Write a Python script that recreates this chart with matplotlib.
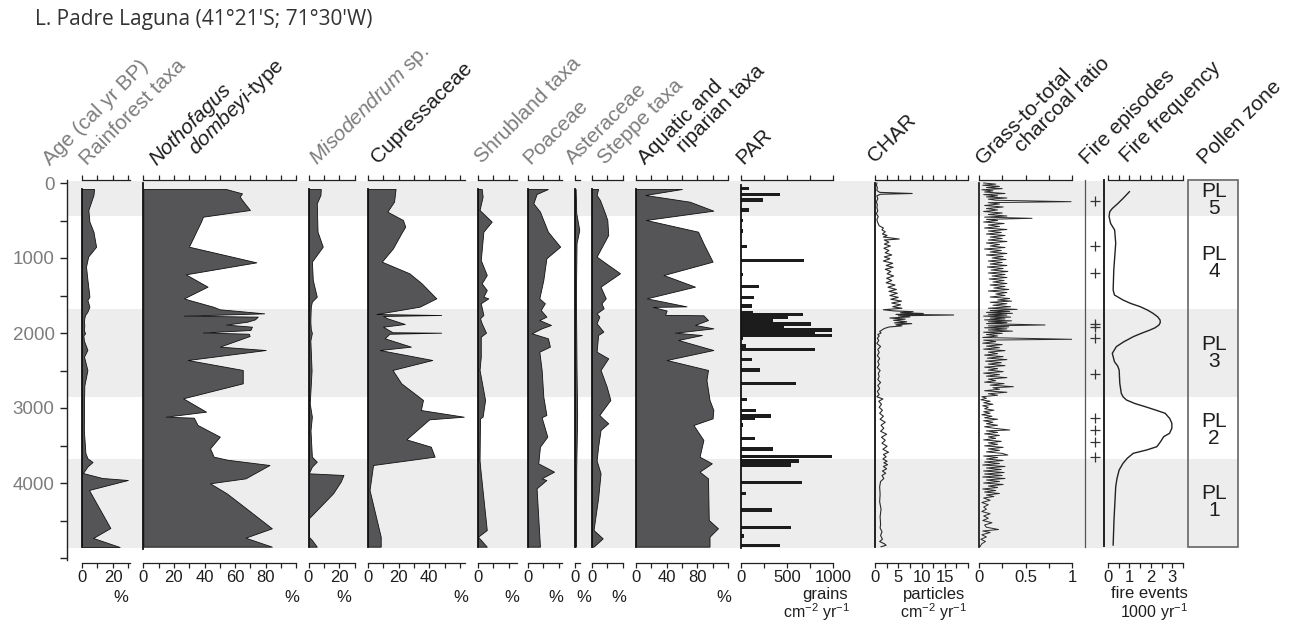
import matplotlib
matplotlib.use('Agg')
import matplotlib.pyplot as plt
from matplotlib.lines import Line2D
from matplotlib.patches import Rectangle

plt.rcParams['font.family'] = ['Liberation Sans', 'DejaVu Sans']
plt.rcParams['mathtext.fontset'] = 'custom'
plt.rcParams['mathtext.rm'] = 'Liberation Sans'
plt.rcParams['mathtext.it'] = 'Liberation Sans:italic'
plt.rcParams['mathtext.bf'] = 'Liberation Sans:bold'

# ---------------- data ----------------
zone_names = ['PL\n5', 'PL\n4', 'PL\n3', 'PL\n2', 'PL\n1']
zone_bounds = [-30, 440, 1684, 2849, 3680, 4860]

rf_age = [80,160,360,515,650,850,980,1115,1290,1515,1560,1650,1715,1760,1800,1850,1900,1960,2005,2030,2100,2225,2315,2495,2700,2940,3300,3600,3670,3720,3780,3867,3933,3960,4093,4600,4733,4853]
rf_val = [7.8,7.4,4.1,4.8,7.4,9.1,4.0,2.6,3.5,4.8,3.5,4.8,3.5,2.0,1.5,1.3,1.5,1.2,2.0,0.9,1.2,3.5,1.3,3.5,1.5,1.3,1.2,2.2,3.5,6.8,3.5,0.6,13.0,29.6,4.5,18.3,7.2,24.3]

no_age = [80,138,182,249,360,449,516,649,715,849,1058,1218,1382,1538,1560,1649,1684,1738,1769,1782,1818,1849,1888,1916,1960,1993,2010,2040,2182,2227,2360,2493,2671,2871,3049,3116,3129,3227,3382,3538,3649,3690,3760,3938,4004,4138,4271,4604,4729,4849]
no_val = [54,64.5,63,65.4,69.7,39,37.7,34.5,33,29.8,73.9,27.7,42,26.6,30,45.6,50,79,26.6,74.8,73,68,54,71,70,39,69,69.5,50,80,29,65,65,26,41,14.6,33,35.5,50,43.6,46,55,82.5,66.8,43.6,54.5,63,84,66.8,84]

mi_age = [80,160,271,649,849,1049,1293,1516,1582,1650,1760,1850,1950,2000,2100,2500,2940,3116,3300,3649,3716,3782,3871,3893,3982,4138,4471,4716,4760,4849]
mi_val = [8,7.8,5.4,5.9,9.3,2.2,2.8,5.4,2.2,1.5,1.3,1.2,1.5,2.2,1.2,2.0,0.8,2.2,1.3,2.2,5.4,2.2,0.2,22.8,21,16,0.2,0.2,2.2,5.4]

cu_age = [80,249,382,493,582,671,871,1049,1204,1338,1538,1649,1747,1760,1773,1804,1880,1916,1990,1996,2010,2071,2182,2227,2360,2493,2671,2893,3027,3116,3151,3418,3516,3649,3760,4093,4716,4849]
cu_val = [18,17,12.6,22.8,24.3,21.7,16.3,9,27,35,44.6,33.7,5.4,47.8,9.8,12.6,24,9.8,16,47.8,14,10.9,28,7.6,42,16,21.7,35.9,34.5,62.5,40,25,41,43.5,3.3,1,8.3,8.3]

sh_age = [80,182,360,515,649,1027,1115,1227,1338,1427,1516,1538,1604,1760,1804,1871,1996,2049,2316,2493,2893,3116,3138,3700,3871,4627,4716,4849]
sh_val = [2.4,3.0,1.0,8.9,3.5,1.8,3.5,5.7,2.4,5.7,3.5,6.7,1.8,3.5,1.3,2.4,5.2,1.8,1.8,1.0,4.6,3.0,1.3,1.0,1.8,5.7,0,5.7]

po_age = [80,147,271,382,649,849,1004,1293,1538,1604,1693,1782,1827,1893,1938,2004,2071,2182,2249,2493,2849,3093,3124,3200,3382,3516,3738,3849,3938,3960,4071,4849]
po_val = [13,5.6,3.5,7.8,13,21,12,10,7.4,11,8.3,12,7.4,15,8.9,2.4,13,14.3,7.4,8.9,10,12,8.9,10,12.6,7.8,6.7,17,8.9,12,5.6,7.8]

as_age = [80,400,627,800,1500,2500,3100,3800,4849]
as_val = [0.4,0.8,2.8,1.0,0.6,1.0,1.4,0.8,0.6]

st_age = [80,160,227,404,493,693,982,1204,1382,1538,1604,1671,1738,1782,1870,1982,2027,2249,2338,2493,2716,2893,3093,3138,3204,3293,3516,3700,3871,4200,4627,4738,4849]
st_val = [4,3,5.2,8.5,10,10.6,3,18.3,5.6,9,6.2,7.6,3,4.8,3,7.4,4,3,10.6,5.6,9.6,12,4.8,7,10.6,5.6,4,3,5.6,4,1,7,1]

aq_age = [80,160,249,369,493,649,804,1049,1227,1382,1538,1645,1652,1700,1758,1764,1827,1893,1938,1996,2027,2093,2227,2360,2493,2627,2893,3027,3138,3227,3427,3649,3738,3849,3938,4493,4604,4716,4849]
aq_val = [60,12,70,101,13,81,88,100,36,77,14,66,22,40,38,88,94,77,101,51,86,55,101,40,94,92,96,101,100,75,88,83,99,83,94,95,107,96,96]

par_age = [71,151,227,360,502,640,849,1036,1218,1382,1529,1640,1722,1755,1795,1840,1880,1920,1960,1995,2030,2071,2173,2218,2351,2493,2671,2884,3036,3107,3138,3227,3404,3547,3649,3707,3760,3991,4138,4360,4591,4707,4836]
par_val = [90,424,235,90,25,25,69,688,18,196,141,123,134,670,514,344,757,467,993,804,993,25,54,804,123,206,598,62,159,322,152,25,152,344,993,630,543,663,54,333,543,33,424]

char_age = [0,30,60,100,125,140,150,170,210,250,
            290,330,370,410,450,490,530,570,600,625,
            650,680,700,720,747,760,790,815,840,870,
            900,930,960,985,1010,1040,1070,1100,1125,1150,
            1180,1210,1240,1270,1300,1330,1360,1390,1420,1445,
            1470,1500,1525,1550,1575,1600,1625,1650,1670,1690,
            1705,1716,1730,1740,1752,1760,1770,1785,1800,1815,
            1830,1850,1865,1875,1890,1905,1920,1940,1960,1980,
            2000,2020,2040,2070,2100,2140,2180,2220,2260,2300,
            2340,2380,2420,2460,2500,2540,2580,2620,2660,2700,
            2740,2780,2820,2850,2880,2910,2950,2990,3030,3070,
            3110,3150,3190,3230,3270,3310,3350,3390,3430,3470,
            3510,3550,3590,3620,3650,3680,3710,3730,3755,3780,
            3810,3840,3870,3900,3940,3980,4050,4150,4250,4350,
            4450,4550,4600,4650,4700,4750,4780,4810,4830,4850]
char_val = [0.4,0.3,0.5,0.4,1.0,8.0,1.2,0.4,0.6,0.3,
            0.5,0.4,0.6,0.3,0.7,0.4,0.6,0.9,1.8,1.5,
            2.2,1.6,2.6,1.8,5.2,2.0,3.0,2.0,3.3,1.9,
            3.0,2.2,3.6,2.0,3.2,1.8,3.8,2.4,3.9,2.2,
            3.4,2.6,4.0,2.5,3.6,2.4,4.3,2.8,4.6,3.0,
            4.8,3.2,5.0,3.4,5.7,3.6,5.5,3.8,5.8,1.8,
            4.0,8.2,5.5,10.4,4.5,16.9,5.0,7.5,3.2,6.5,
            4.0,6.8,4.2,7.9,4.5,5.8,3.0,2.0,1.5,1.0,
            1.3,0.6,0.9,0.5,0.8,0.4,1.2,0.6,0.9,0.5,
            1.0,0.6,0.9,0.5,1.1,0.7,0.9,0.6,1.2,0.6,
            1.0,0.5,0.9,0.4,1.7,0.8,1.4,0.9,1.6,1.0,
            1.8,1.1,2.2,1.3,1.9,1.2,2.5,1.4,2.2,1.5,
            2.6,1.7,2.9,1.8,2.4,1.7,2.6,1.9,2.7,1.8,
            2.5,1.6,2.3,1.5,1.9,1.2,1.0,1.1,1.0,1.3,
            1.1,1.2,1.1,1.5,1.2,1.6,1.0,2.0,2.4,1.3]

gr_age = [0,15,30,45,60,75,90,105,120,140,
          155,170,185,200,215,230,249,262,280,300,
          320,340,360,380,400,420,440,455,471,485,
          500,520,540,560,580,600,620,640,660,680,
          700,720,740,760,780,800,820,840,860,880,
          900,920,940,960,980,1000,1020,1040,1060,1080,
          1100,1120,1140,1160,1180,1200,1220,1240,1260,1280,
          1300,1320,1340,1360,1380,1400,1420,1440,1460,1480,
          1500,1520,1540,1560,1575,1590,1610,1630,1650,1670,
          1685,1700,1712,1725,1738,1750,1762,1775,1788,1800,
          1812,1825,1838,1850,1862,1875,1893,1905,1918,1930,
          1945,1960,1975,1990,2005,2020,2040,2060,2084,2095,
          2115,2135,2155,2175,2195,2215,2235,2255,2275,2295,
          2315,2335,2355,2375,2395,2415,2435,2455,2475,2495,
          2515,2535,2555,2575,2595,2615,2635,2655,2675,2695,
          2716,2730,2750,2770,2790,2810,2830,2850,2870,2890,
          2910,2930,2950,2970,2990,3010,3030,3050,3070,3090,
          3110,3130,3150,3170,3190,3210,3230,3250,3270,3293,
          3305,3325,3345,3365,3385,3405,3425,3445,3465,3485,
          3505,3525,3545,3565,3585,3605,3627,3640,3660,3680,
          3700,3720,3740,3760,3780,3800,3820,3840,3860,3880,
          3900,3920,3940,3960,3980,4000,4020,4040,4060,4080,
          4100,4120,4140,4160,4180,4200,4230,4260,4290,4320,
          4350,4380,4410,4440,4470,4500,4530,4560,4590,4620,
          4640,4660,4690,4720,4750,4780,4810,4850]
gr_val = [0.05,0.18,0.04,0.22,0.08,0.25,0.03,0.15,0.06,0.28,
          0.05,0.20,0.08,0.30,0.10,0.18,0.99,0.10,0.22,0.06,
          0.26,0.08,0.20,0.05,0.25,0.10,0.30,0.06,0.57,0.08,
          0.20,0.05,0.27,0.10,0.22,0.06,0.30,0.10,0.24,0.08,
          0.28,0.12,0.25,0.10,0.30,0.08,0.22,0.12,0.28,0.06,
          0.24,0.12,0.30,0.08,0.26,0.14,0.29,0.10,0.25,0.12,
          0.30,0.09,0.26,0.13,0.31,0.10,0.28,0.14,0.30,0.11,
          0.27,0.15,0.30,0.12,0.28,0.16,0.32,0.10,0.30,0.18,
          0.28,0.12,0.33,0.20,0.35,0.12,0.30,0.15,0.34,0.10,
          0.41,0.12,0.33,0.08,0.36,0.10,0.30,0.05,0.34,0.12,
          0.28,0.06,0.35,0.10,0.30,0.08,0.71,0.10,0.32,0.06,
          0.30,0.10,0.36,0.05,0.25,0.08,0.20,0.04,1.00,0.05,
          0.18,0.04,0.25,0.08,0.22,0.05,0.28,0.10,0.20,0.06,
          0.26,0.09,0.30,0.07,0.24,0.10,0.28,0.06,0.20,0.10,
          0.26,0.05,0.22,0.08,0.30,0.10,0.18,0.06,0.27,0.12,
          0.37,0.15,0.22,0.06,0.30,0.10,0.20,0.03,0.08,0.02,
          0.12,0.05,0.15,0.04,0.10,0.06,0.16,0.05,0.12,0.03,
          0.14,0.06,0.20,0.05,0.15,0.08,0.20,0.06,0.16,0.33,
          0.08,0.20,0.06,0.22,0.10,0.18,0.05,0.24,0.10,0.20,
          0.06,0.26,0.10,0.22,0.08,0.25,0.31,0.05,0.20,0.08,
          0.26,0.06,0.22,0.04,0.28,0.08,0.24,0.05,0.27,0.06,
          0.25,0.04,0.28,0.08,0.22,0.05,0.26,0.10,0.20,0.04,
          0.18,0.06,0.22,0.08,0.16,0.05,0.12,0.03,0.10,0.05,
          0.08,0.03,0.12,0.05,0.10,0.04,0.14,0.06,0.08,0.21,
          0.04,0.12,0.03,0.08,0.02,0.07,0.03,0.01]

fire_ep_age = [240, 840, 1204, 1880, 1916, 2071, 2547, 3138, 3293, 3449, 3649]

ff_age = [116,200,271,340,382,449,538,627,804,1160,1427,1493,1560,1605,1649,1695,1738,1785,1827,1860,1893,1930,1960,2005,2049,2120,2182,2271,2382,2440,2493,2671,2804,2850,2893,2940,2982,3030,3071,3140,3204,3270,3338,3382,3450,3516,3560,3604,3670,3738,3827,3940,4049,4493,4827]
ff_val = [1.0,0.72,0.47,0.2,0.08,0.05,0.12,0.31,0.36,0.27,0.24,0.3,0.7,1.05,1.5,1.85,2.1,2.32,2.43,2.44,2.38,2.2,1.96,1.55,1.18,0.72,0.39,0.2,0.3,0.45,0.52,0.55,0.62,0.7,0.86,1.25,1.73,2.25,2.67,2.88,2.98,2.98,2.87,2.6,2.45,2.28,1.8,1.18,0.9,0.7,0.52,0.42,0.36,0.28,0.24]

# ---------------- layout helpers ----------------
W, H = 1292, 623
fig = plt.figure(figsize=(W / 100, H / 100), dpi=100)
TOP, BOT = 180, 563


def px2age(p):
    return (p - 183) / 0.075


YL = (px2age(BOT), px2age(TOP))


def fx(x):
    return x / W


def fy(y):
    return 1 - y / H


FILL = '#555557'
EDGE = '#111111'
GRAY_TXT = '#7d7d7d'
DARK_TXT = '#1e1e1e'

# background zone shading
bg = fig.add_axes([fx(67), fy(BOT), (1238 - 67) / W, (BOT - TOP) / H])
bg.set_xlim(0, 1); bg.set_ylim(*YL); bg.axis('off')
for i in (0, 2, 4):
    bg.axhspan(zone_bounds[i], zone_bounds[i + 1], color='#ededed', lw=0, zorder=0)

# age axis
ax_age = fig.add_axes([fx(67), fy(BOT), 2 / W, (BOT - TOP) / H])
ax_age.set_ylim(*YL)
ax_age.patch.set_visible(False)
for s in ('top', 'right', 'bottom'):
    ax_age.spines[s].set_visible(False)
ax_age.spines['left'].set_bounds(YL[1], 5027)
ax_age.spines['left'].set_linewidth(1.0)
ax_age.spines['left'].set_color('#222')
ax_age.set_xticks([])
aticks = list(range(0, 5001, 500))
ax_age.set_yticks(aticks)
ax_age.set_yticklabels([str(t) if (t % 1000 == 0 and t <= 4000) else '' for t in aticks])
ax_age.tick_params(axis='y', direction='out', length=5, width=1.0, color='#222',
                   labelsize=13.5, labelcolor=GRAY_TXT, pad=4)


def panel(x0, x1, xmax, ticks, labels):
    ax = fig.add_axes([fx(x0), fy(BOT), (x1 - x0) / W, (BOT - TOP) / H])
    ax.set_xlim(0, xmax)
    ax.set_ylim(*YL)
    ax.patch.set_visible(False)
    for s in ('left', 'right'):
        ax.spines[s].set_visible(False)
    for s in ('top', 'bottom'):
        ax.spines[s].set_linewidth(0.9)
        ax.spines[s].set_color('#222')
    ax.set_yticks([])
    ax.set_xticks(ticks)
    ax.set_xticklabels(labels)
    ax.tick_params(axis='x', top=True, bottom=True, direction='out', length=3.8,
                   width=0.9, color='#222', labelsize=12, labelcolor=DARK_TXT, pad=1.5)
    return ax


def lab(t, show):
    return [('%g' % v) if v in show else '' for v in t]


def pollen(x0, x1, xmax, ticks, show, ages, vals, zl=None):
    ax = panel(x0, x1, xmax, ticks, lab(ticks, show))
    ax.fill_betweenx(ages, 0, vals, facecolor=FILL, edgecolor=EDGE, linewidth=0.6, zorder=2)
    a0, a1 = (ages[0], ages[-1]) if zl is None else zl
    ax.plot([0, 0], [a0, a1], color=EDGE, lw=1.3, clip_on=False, zorder=3)
    return ax


pollen(82, 130, 31, [0, 10, 20, 30], [0, 20], rf_age, rf_val)
pollen(143.3, 296.3, 100, list(range(0, 101, 10)), [0, 20, 40, 60, 80], no_age, no_val, zl=(0, 4880))
pollen(308.5, 354.5, 30, [0, 10, 20, 30], [0, 20], mi_age, mi_val)
pollen(368, 464.5, 63, list(range(0, 61, 10)), [0, 20, 40], cu_age, cu_val)
pollen(478, 516.5, 25, [0, 10, 20], [0], sh_age, sh_val)
pollen(528, 561.7, 22, [0, 10, 20], [0], po_age, po_val)
pollen(575, 579.6, 3, [0], [0], as_age, as_val)
pollen(592, 622.6, 20, [0, 10, 20], [0], st_age, st_val)
pollen(636, 727.9, 120, list(range(0, 121, 20)), [0, 40, 80], aq_age, aq_val)

# PAR
ax_par = panel(741, 833, 1000, [0, 250, 500, 750, 1000], ['0', '', '500', '', '1000'])
ax_par.barh(par_age, par_val, height=42, color='#1c1c1c', zorder=2)
ax_par.plot([0, 0], [27, 4870], color=EDGE, lw=1.3, clip_on=False, zorder=3)

# CHAR
cticks = [0, 2.5, 5, 7.5, 10, 12.5, 15, 17.5, 20]
ax_char = panel(875, 968, 20, cticks, ['0', '', '5', '', '10', '', '15', '', ''])
ax_char.plot(char_val, char_age, color='#2a2a2a', lw=0.8, zorder=2)
ax_char.plot([0, 0], [0, 4850], color=EDGE, lw=1.3, clip_on=False, zorder=3)

# Grass-to-total ratio
ax_gr = panel(979, 1072, 1, [0, 0.25, 0.5, 0.75, 1], ['0', '', '0.5', '', '1'])
ax_gr.plot(gr_val, gr_age, color='#2a2a2a', lw=0.7, zorder=2)
ax_gr.plot([0, 0], [0, 4850], color=EDGE, lw=1.2, clip_on=False, zorder=3)

# Fire episodes
ax_fe = fig.add_axes([fx(1085), fy(BOT), (1104 - 1085) / W, (BOT - TOP) / H])
ax_fe.set_xlim(0, 1); ax_fe.set_ylim(*YL); ax_fe.axis('off')
ax_fe.plot([0.53] * len(fire_ep_age), fire_ep_age, linestyle='none', marker='+',
           markersize=7, markeredgewidth=0.9, color='#333')
fig.add_artist(Line2D([fx(1085)] * 2, [fy(180), fy(547)], color='#555', lw=0.9))
fig.add_artist(Line2D([fx(1104)] * 2, [fy(180), fy(546)], color='#222', lw=1.4))

# Fire frequency
fticks = [0, 0.5, 1, 1.5, 2, 2.5, 3, 3.5]
ax_ff = panel(1108, 1183, 3.5, fticks, ['0', '', '1', '', '2', '', '3', ''])
ax_ff.plot(ff_val, ff_age, color='#222', lw=1.0, zorder=2)

# Pollen zone box
fig.add_artist(Rectangle((fx(1188), fy(547)), (1238 - 1188) / W, (547 - 180) / H,
                         transform=fig.transFigure, fill=False, edgecolor='#666', lw=1.2))
zone_centers = [200, 263, 353, 430, 502]
for name, yc in zip(zone_names, zone_centers):
    fig.text(fx(1214), fy(yc), name, ha='center', va='center', fontsize=15,
             linespacing=0.92, color=DARK_TXT)

# ---------------- headers ----------------
def header(x, y, s, color, **kw):
    fig.text(fx(x), fy(y), s, rotation=45, rotation_mode='anchor', ha='left',
             va='baseline', fontsize=15, color=color, **kw)


header(50, 166, 'Age (cal yr BP)', GRAY_TXT)
header(87, 166, 'Rainforest taxa', GRAY_TXT)
header(157, 166, 'Nothofagus', DARK_TXT, fontstyle='italic')
header(196, 156, r'$\mathit{dombeyi}$-type', DARK_TXT)
header(317, 166, r'$\mathit{Misodendrum}$ sp.', GRAY_TXT)
header(378, 164, 'Cupressaceae', DARK_TXT)
header(482, 164, 'Shrubland taxa', GRAY_TXT)
header(530, 165, 'Poaceae', GRAY_TXT)
header(573, 165, 'Asteraceae', GRAY_TXT)
header(605, 165, 'Steppe taxa', GRAY_TXT)
header(645, 165, 'Aquatic and', DARK_TXT)
header(684, 153, 'riparian taxa', DARK_TXT)
header(743, 165, 'PAR', DARK_TXT)
header(875, 163, 'CHAR', DARK_TXT)
header(983, 165, 'Grass-to-total', DARK_TXT)
header(1022, 153, 'charcoal ratio', DARK_TXT)
header(1087, 165, 'Fire episodes', DARK_TXT)
header(1127, 163, 'Fire frequency', DARK_TXT)
header(1205, 165, 'Pollen zone', DARK_TXT)

# title
fig.text(fx(35), fy(20), "L. Padre Laguna (41°21'S; 71°30'W)", ha='left', va='center',
         fontsize=15, color='#333', family=['Open Sans', 'DejaVu Sans'])

# ---------------- unit labels ----------------
for xc in [121, 292, 344, 461, 512, 556, 584, 619, 724]:
    fig.text(fx(xc), fy(598), '%', ha='center', va='center', fontsize=12, color=DARK_TXT)
fig.text(fx(848), fy(594), 'grains', ha='right', va='center', fontsize=12, color=DARK_TXT)
fig.text(fx(850), fy(612), r'cm$^{-2}$ yr$^{-1}$', ha='right', va='center', fontsize=11.5, color=DARK_TXT)
fig.text(fx(965), fy(594), 'particles', ha='right', va='center', fontsize=12, color=DARK_TXT)
fig.text(fx(967), fy(612), r'cm$^{-2}$ yr$^{-1}$', ha='right', va='center', fontsize=11.5, color=DARK_TXT)
fig.text(fx(1188), fy(594), 'fire events', ha='right', va='center', fontsize=12, color=DARK_TXT)
fig.text(fx(1188), fy(612), r'1000 yr$^{-1}$', ha='right', va='center', fontsize=11.5, color=DARK_TXT)

fig.savefig('out.png', dpi=100)
